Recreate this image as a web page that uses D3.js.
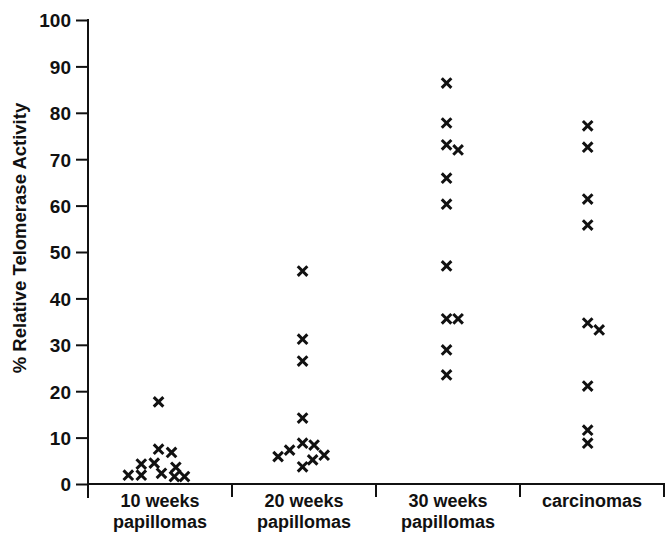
<!DOCTYPE html>
<html>
<head>
  <style>
    body { margin: 0; background: white; font-family: "Liberation Sans", Arial, Helvetica, sans-serif; }
    svg text { font-weight: bold; fill: #111; }
  </style>
</head>
<body>
  <svg id="chart"></svg>
  <script src="https://cdn.jsdelivr.net/npm/d3@7"></script>
  <script>
    var width = 665, height = 535;
    var margin = { top: 20, left: 88, bottom: 51, right: 1 };

    // categories (two label lines each)
    var categories = ["10w", "20w", "30w", "carc"];
    var labelLine1 = ["10 weeks", "20 weeks", "30 weeks", "carcinomas"];
    var labelLine2 = ["papillomas", "papillomas", "papillomas", ""];

    // % relative telomerase activity, one array per group
    var values10w = [17.7, 7.5, 6.8, 4.3, 4.5, 1.9, 1.9, 2.3, 3.6, 1.6, 1.6];
    var values20w = [45.9, 31.2, 26.5, 14.2, 8.8, 8.4, 5.9, 7.3, 6.2, 3.7, 5.2];
    var values30w = [86.4, 77.8, 73.1, 72.0, 65.9, 60.3, 47.0, 35.6, 35.6, 28.9, 23.5];
    var valuesCarc = [77.2, 72.6, 61.4, 55.8, 34.7, 33.2, 21.1, 11.6, 8.8];

    // horizontal scatter of each point, as a fraction of the category width
    var jitter10w = [-0.01, -0.01, 0.08, -0.13, -0.04, -0.22, -0.13, 0.01, 0.11, 0.10, 0.17];
    var jitter20w = [-0.01, -0.01, -0.01, -0.01, -0.01, 0.07, -0.18, -0.10, 0.14, -0.01, 0.06];
    var jitter30w = [-0.01, -0.01, -0.01, 0.07, -0.01, -0.01, -0.01, -0.01, 0.07, -0.01, -0.01];
    var jitterCarc = [-0.03, -0.03, -0.03, -0.03, -0.03, 0.05, -0.03, -0.03, -0.03];

    var yTicks = [0, 10, 20, 30, 40, 50, 60, 70, 80, 90, 100];
    var yTitle = "% Relative Telomerase Activity";

    var groups = [values10w, values20w, values30w, valuesCarc];
    var jitters = [jitter10w, jitter20w, jitter30w, jitterCarc];
    var points = [];
    groups.forEach(function (vals, gi) {
      vals.forEach(function (v, i) {
        points.push({ cat: categories[gi], value: v, dx: jitters[gi][i] });
      });
    });

    var svg = d3.select("#chart").attr("width", width).attr("height", height);

    var x = d3.scaleBand()
      .domain(categories)
      .range([margin.left, width - margin.right])
      .padding(0);
    var y = d3.scaleLinear()
      .domain([0, 100])
      .range([height - margin.bottom, margin.top]);

    var axisColor = "#111";

    // y axis
    var yAxis = d3.axisLeft(y).tickValues(yTicks).tickSize(12).tickPadding(5);
    var gy = svg.append("g")
      .attr("transform", "translate(" + margin.left + ",0)")
      .call(yAxis);
    gy.select(".domain").remove();
    gy.selectAll("line").attr("stroke", axisColor).attr("stroke-width", 2);
    gy.selectAll("text").attr("font-size", 19).attr("font-family", "Liberation Sans, Arial, sans-serif").attr("fill", "#111").attr("dy", "0.36em");
    // vertical axis line runs below the baseline
    gy.append("line")
      .attr("x1", 0).attr("x2", 0)
      .attr("y1", y(100) - 1).attr("y2", y(0) + 14)
      .attr("stroke", axisColor).attr("stroke-width", 2);

    // x axis
    var gx = svg.append("g").attr("transform", "translate(0," + y(0) + ")");
    gx.append("line")
      .attr("x1", margin.left).attr("x2", width)
      .attr("y1", 0).attr("y2", 0)
      .attr("stroke", axisColor).attr("stroke-width", 2);
    // divider ticks at band edges
    gx.selectAll(".divider")
      .data(categories)
      .join("line")
      .attr("class", "divider")
      .attr("x1", function (d) { return x(d) + x.bandwidth(); })
      .attr("x2", function (d) { return x(d) + x.bandwidth(); })
      .attr("y1", 0).attr("y2", 13)
      .attr("stroke", axisColor).attr("stroke-width", 2);

    var labels = gx.selectAll(".cat")
      .data(categories)
      .join("text")
      .attr("class", "cat")
      .attr("text-anchor", "middle")
      .attr("font-size", 18)
      .attr("transform", function (d) { return "translate(" + (x(d) + x.bandwidth() / 2) + ",0)"; });
    labels.append("tspan").attr("x", 0).attr("y", 23)
      .text(function (d, i) { return labelLine1[i]; });
    labels.append("tspan").attr("x", 0).attr("y", 44)
      .text(function (d, i) { return labelLine2[i]; });

    // y title
    svg.append("text")
      .attr("transform", "translate(26," + 238 + ") rotate(-90)")
      .attr("text-anchor", "middle")
      .attr("font-size", 18.5)
      .text(yTitle);

    // cross markers
    var s = 4.8;
    svg.append("g").selectAll("path")
      .data(points)
      .join("path")
      .attr("transform", function (d) {
        return "translate(" + (x(d.cat) + x.bandwidth() * (0.5 + d.dx)) + "," + y(d.value) + ")";
      })
      .attr("d", "M" + (-s) + "," + (-s) + "L" + s + "," + s + "M" + (-s) + "," + s + "L" + s + "," + (-s))
      .attr("stroke", "#111")
      .attr("stroke-width", 3)
      .attr("fill", "none");
  </script>
</body>
</html>
